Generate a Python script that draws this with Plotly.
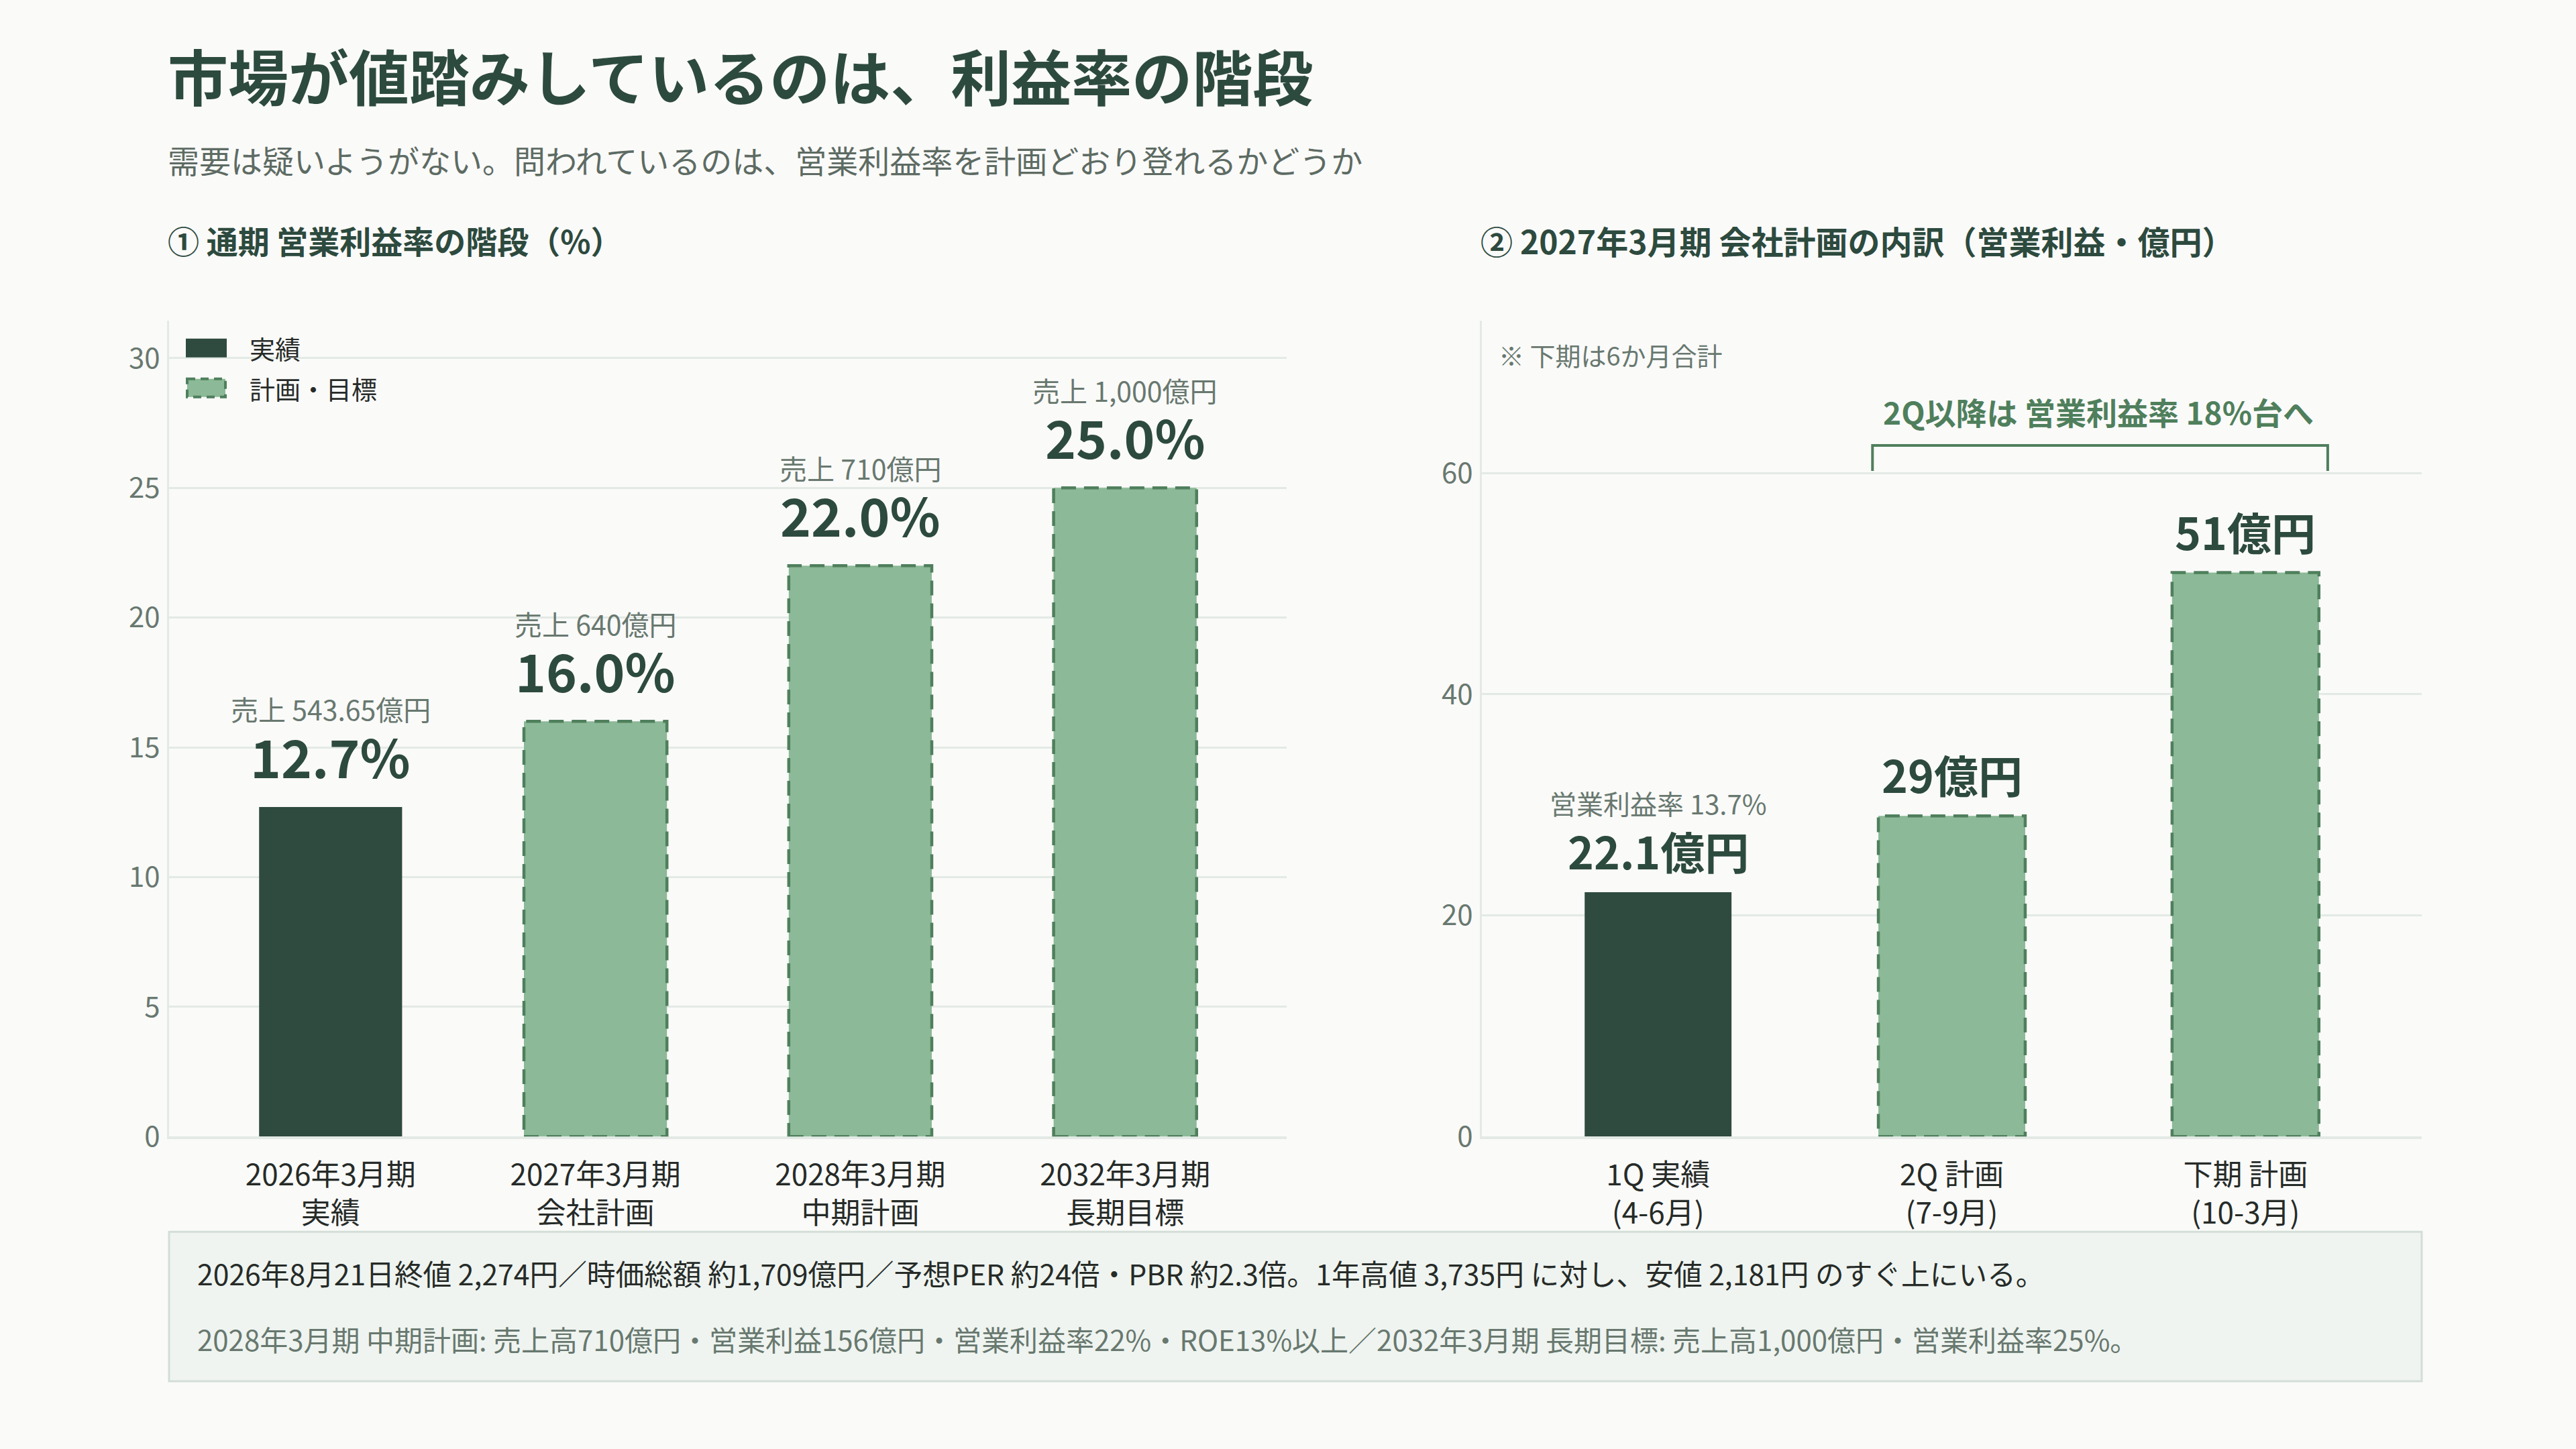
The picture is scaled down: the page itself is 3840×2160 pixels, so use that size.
import plotly.graph_objects as go

# the photographed page comes out ~26px taller than 2160, so the figure fills it
W, H = 3840, 2186
REF_H = 2160
SY = H / REF_H
FONT = "Noto Sans CJK JP"

DARK = "#2f4b3f"
LIGHT = "#8cb997"
DASH = "#4f7f5c"
TITLE_C = "#2d4a3e"
GREY = "#68786f"
TEXT = "#262b28"
GRID = "#e3eae5"

# ① 通期 営業利益率の階段（%）
margin_periods = ["2026年3月期<br>実績", "2027年3月期<br>会社計画", "2028年3月期<br>中期計画", "2032年3月期<br>長期目標"]
margin_values = [12.7, 16.0, 22.0, 25.0]
margin_labels = ["12.7%", "16.0%", "22.0%", "25.0%"]
sales_labels = ["売上 543.65億円", "売上 640億円", "売上 710億円", "売上 1,000億円"]
margin_actual = [True, False, False, False]

# ② 2027年3月期 会社計画の内訳（営業利益・億円）
quarter_periods = ["1Q 実績<br>(4-6月)", "2Q 計画<br>(7-9月)", "下期 計画<br>(10-3月)"]
profit_values = [22.1, 29, 51]
profit_labels = ["22.1億円", "29億円", "51億円"]
profit_notes = ["営業利益率 13.7%", "", ""]
profit_actual = [True, False, False]

LEFT_W = 0.54
RIGHT_W = 0.5


def px(x):
    return x / W


def py(y):
    return 1 - y / REF_H


fig = go.Figure()

fig.add_trace(go.Bar(
    x=list(range(len(margin_values))), y=margin_values, width=LEFT_W,
    marker=dict(color=[DARK if a else LIGHT for a in margin_actual], line=dict(width=0)),
    xaxis="x", yaxis="y", showlegend=False, hoverinfo="skip",
))
fig.add_trace(go.Bar(
    x=list(range(len(profit_values))), y=profit_values, width=RIGHT_W,
    marker=dict(color=[DARK if a else LIGHT for a in profit_actual], line=dict(width=0)),
    xaxis="x2", yaxis="y2", showlegend=False, hoverinfo="skip",
))

shapes = []
annotations = []

# dashed outlines for plan bars
for vals, flags, w, xr, yr in [
    (margin_values, margin_actual, LEFT_W, "x", "y"),
    (profit_values, profit_actual, RIGHT_W, "x2", "y2"),
]:
    for i, (v, a) in enumerate(zip(vals, flags)):
        if a:
            continue
        shapes.append(dict(
            type="rect", xref=xr, yref=yr, x0=i - w / 2, x1=i + w / 2, y0=0, y1=v,
            line=dict(color=DASH, width=4.5, dash="22px,12px"), fillcolor="rgba(0,0,0,0)",
        ))

# value labels
for i, v in enumerate(margin_values):
    annotations.append(dict(
        xref="x", yref="y", x=i, y=v, yshift=76 * SY, text=margin_labels[i], showarrow=False,
        font=dict(family=FONT, size=78, color=TITLE_C, weight=700), yanchor="middle",
    ))
    annotations.append(dict(
        xref="x", yref="y", x=i, y=v, yshift=145 * SY, text=sales_labels[i], showarrow=False,
        font=dict(family=FONT, size=41, color=GREY), yanchor="middle",
    ))
for i, v in enumerate(profit_values):
    annotations.append(dict(
        xref="x2", yref="y2", x=i, y=v, yshift=62 * SY, text=profit_labels[i], showarrow=False,
        font=dict(family=FONT, size=66, color=TITLE_C, weight=700), yanchor="middle",
    ))
    if profit_notes[i]:
        annotations.append(dict(
            xref="x2", yref="y2", x=i, y=v, yshift=131 * SY, text=profit_notes[i], showarrow=False,
            font=dict(family=FONT, size=40, color=GREY), yanchor="middle",
        ))

# bracket over 2Q and 下期
shapes.append(dict(
    type="path", xref="x2", yref="y2",
    path="M 0.73 60.2 L 0.73 62.5 L 2.28 62.5 L 2.28 60.2",
    line=dict(color=DASH, width=4),
))
annotations.append(dict(
    xref="x2", yref="y2", x=1.5, y=65.6, text="2Q以降は 営業利益率 18%台へ", showarrow=False,
    font=dict(family=FONT, size=46, color=DASH, weight=700), yanchor="middle",
))
annotations.append(dict(
    xref="paper", yref="paper", x=px(2232), y=py(529), text="※ 下期は6か月合計", showarrow=False,
    font=dict(family=FONT, size=38, color=GREY), xanchor="left", yanchor="middle",
))

# custom legend
shapes.append(dict(type="rect", xref="paper", yref="paper",
                   x0=px(277), x1=px(338), y0=py(505), y1=py(533),
                   fillcolor=DARK, line=dict(width=0)))
shapes.append(dict(type="rect", xref="paper", yref="paper",
                   x0=px(279), x1=px(336), y0=py(565), y1=py(592),
                   fillcolor=LIGHT, line=dict(color=DASH, width=4, dash="12px,8px")))
annotations.append(dict(xref="paper", yref="paper", x=px(370), y=py(519), text="実績",
                        showarrow=False, xanchor="left", yanchor="middle",
                        font=dict(family=FONT, size=38, color=TEXT)))
annotations.append(dict(xref="paper", yref="paper", x=px(370), y=py(579), text="計画・目標",
                        showarrow=False, xanchor="left", yanchor="middle",
                        font=dict(family=FONT, size=38, color=TEXT)))

# headings
annotations.append(dict(xref="paper", yref="paper", x=px(248), y=py(111),
                        text="市場が値踏みしているのは、利益率の階段", showarrow=False,
                        xanchor="left", yanchor="middle",
                        font=dict(family=FONT, size=90, color=TITLE_C, weight=700)))
annotations.append(dict(xref="paper", yref="paper", x=px(248), y=py(238),
                        text="需要は疑いようがない。問われているのは、営業利益率を計画どおり登れるかどうか",
                        showarrow=False, xanchor="left", yanchor="middle",
                        font=dict(family=FONT, size=47, color="#5d6b63")))
annotations.append(dict(xref="paper", yref="paper", x=px(248), y=py(358),
                        text="① 通期 営業利益率の階段（%）", showarrow=False,
                        xanchor="left", yanchor="middle",
                        font=dict(family=FONT, size=47, color=TITLE_C, weight=700)))
annotations.append(dict(xref="paper", yref="paper", x=px(2205), y=py(358),
                        text="② 2027年3月期 会社計画の内訳（営業利益・億円）", showarrow=False,
                        xanchor="left", yanchor="middle",
                        font=dict(family=FONT, size=48, color=TITLE_C, weight=700)))

# bottom note box
shapes.append(dict(type="rect", xref="paper", yref="paper",
                   x0=px(252), x1=px(3610), y0=py(2060), y1=py(1837),
                   fillcolor="#eff4f0", line=dict(color="#d3ded6", width=3), layer="below"))
annotations.append(dict(xref="paper", yref="paper", x=px(292), y=py(1898),
                        text="2026年8月21日終値 2,274円／時価総額 約1,709億円／予想PER 約24倍・PBR 約2.3倍。1年高値 3,735円 に対し、安値 2,181円 のすぐ上にいる。",
                        showarrow=False, xanchor="left", yanchor="middle",
                        font=dict(family=FONT, size=42.7, color=TEXT)))
annotations.append(dict(xref="paper", yref="paper", x=px(292), y=py(1996),
                        text="2028年3月期 中期計画: 売上高710億円・営業利益156億円・営業利益率22%・ROE13%以上／2032年3月期 長期目標: 売上高1,000億円・営業利益率25%。",
                        showarrow=False, xanchor="left", yanchor="middle",
                        font=dict(family=FONT, size=42, color=GREY)))

axis_common = dict(showgrid=False, zeroline=False, showline=True, linecolor=GRID, linewidth=4,
                   ticks="", tickfont=dict(family=FONT, size=44, color=TEXT), fixedrange=True)
yaxis_common = dict(showgrid=True, gridcolor=GRID, gridwidth=3, zeroline=False, showline=True,
                    linecolor=GRID, linewidth=3, ticks="", ticklabelstandoff=2,
                    tickfont=dict(family=FONT, size=42, color=GREY), fixedrange=True)

fig.update_layout(
    width=W, height=H, autosize=False,
    margin=dict(l=0, r=0, t=0, b=0),
    paper_bgcolor="#fafaf9", plot_bgcolor="rgba(0,0,0,0)",
    xaxis=dict(domain=[px(252), px(1918)], range=[-0.61, 3.61],
               tickvals=list(range(len(margin_periods))), ticktext=margin_periods,
               ticklabelstandoff=16, **axis_common),
    yaxis=dict(domain=[py(1695), py(478)], range=[0, 31.45], tickvals=[0, 5, 10, 15, 20, 25, 30],
               anchor="x", **yaxis_common),
    xaxis2=dict(domain=[px(2209), px(3610)], range=[-0.6, 2.6], anchor="y2",
                tickvals=list(range(len(quarter_periods))), ticktext=quarter_periods,
                ticklabelstandoff=16, **axis_common),
    yaxis2=dict(domain=[py(1695), py(478)], range=[0, 73.8], tickvals=[0, 20, 40, 60],
                anchor="x2", **yaxis_common),
    shapes=shapes,
    annotations=annotations,
)

page_fix = (
    "document.body.style.margin='0';"
    "document.body.style.background='#fafaf9';"
)
fig.write_html("out.html", config={"displayModeBar": False}, post_script=page_fix)
